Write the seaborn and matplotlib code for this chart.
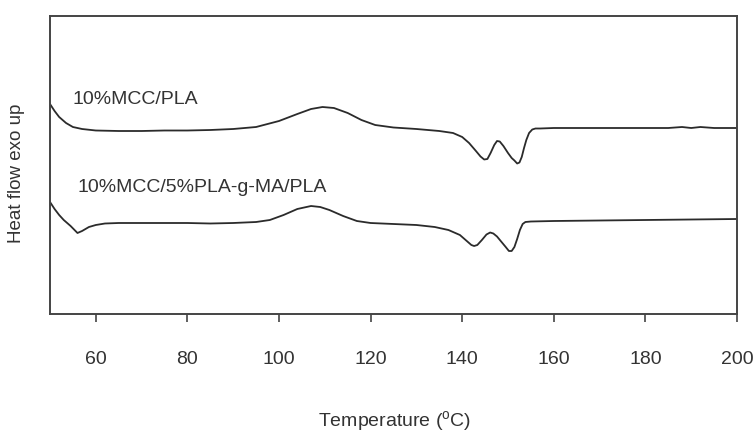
import matplotlib
matplotlib.use("Agg")
import matplotlib.pyplot as plt
import seaborn as sns
import pandas as pd

# --- data (temperature in °C, heat flow in arbitrary units) ---
temp_mcc_pla = [50, 51, 52, 53.5, 55, 57, 60, 65, 70, 75, 80, 85, 90, 95, 100, 104, 107, 109.5, 112, 115,
                118, 121, 125, 130, 135, 138, 140, 141.5, 143, 144, 144.8, 145.5, 146.2, 147, 147.6,
                148.2, 149, 150, 150.8, 151.4, 152, 152.5, 153, 153.5, 154, 154.6, 155.3, 156, 157,
                160, 170, 180, 185, 188, 190, 192, 195, 200]
heat_mcc_pla = [21.0, 20.3, 19.7, 19.1, 18.7, 18.5, 18.35, 18.3, 18.3, 18.35, 18.35, 18.4, 18.5, 18.7,
                19.3, 20.0, 20.5, 20.7, 20.6, 20.1, 19.4, 18.9, 18.65, 18.5, 18.3, 18.1, 17.7, 17.1,
                16.3, 15.75, 15.45, 15.5, 16.1, 16.9, 17.3, 17.25, 16.8, 16.1, 15.6, 15.35, 15.05,
                15.15, 15.7, 16.6, 17.4, 18.1, 18.45, 18.55, 18.55, 18.6, 18.6, 18.6, 18.6, 18.7,
                18.6, 18.7, 18.6, 18.6]

temp_mcc_ma_pla = [50, 51, 52, 53, 54.5, 56, 57, 58.5, 60, 62, 65, 70, 80, 85, 90, 95, 98, 101, 104, 107,
                   109, 111, 114, 117, 120, 125, 130, 134, 137, 139.5, 141, 142, 142.6, 143.3, 144.3,
                   145.3, 146.1, 146.8, 147.6, 148.5, 149.5, 150.2, 150.8, 151.4, 152, 152.6, 153.2,
                   153.8, 155, 160, 170, 180, 190, 200]
heat_mcc_ma_pla = [11.2, 10.5, 9.9, 9.4, 8.8, 8.1, 8.3, 8.7, 8.9, 9.05, 9.1, 9.1, 9.1, 9.05, 9.1, 9.2,
                   9.4, 9.9, 10.5, 10.8, 10.7, 10.4, 9.8, 9.3, 9.1, 9.0, 8.9, 8.7, 8.4, 7.9, 7.3, 6.9,
                   6.8, 6.9, 7.4, 7.95, 8.15, 8.05, 7.75, 7.25, 6.7, 6.3, 6.3, 6.7, 7.5, 8.4, 9.0, 9.2,
                   9.25, 9.3, 9.35, 9.4, 9.45, 9.5]

series_labels = ["10%MCC/PLA", "10%MCC/5%PLA-g-MA/PLA"]
x_ticks = [60, 80, 100, 120, 140, 160, 180, 200]

sns.set_theme(style="white")
plt.rcParams["font.family"] = ["Liberation Sans", "DejaVu Sans"]
plt.rcParams["mathtext.fontset"] = "custom"
plt.rcParams["mathtext.rm"] = "Liberation Sans"

text_col = "#333333"
line_col = "#2b2b2b"

df = pd.concat([
    pd.DataFrame({"T": temp_mcc_pla, "H": heat_mcc_pla, "s": series_labels[0]}),
    pd.DataFrame({"T": temp_mcc_ma_pla, "H": heat_mcc_ma_pla, "s": series_labels[1]}),
])

fig = plt.figure(figsize=(7.55, 4.35), dpi=100)
ax = fig.add_axes([50/755, 1-315/435, 687/755, 298/435])

sns.lineplot(data=df, x="T", y="H", units="s", estimator=None, color=line_col,
             linewidth=1.3, ax=ax, legend=False)

ax.set_xlim(50, 200)
ax.set_ylim(0, 29.8)
ax.set_xticks(x_ticks)
ax.set_xticklabels([str(t) for t in x_ticks])
ax.set_yticks([])

for sp in ax.spines.values():
    sp.set_color("#444444")
    sp.set_linewidth(1.4)
    sp.set_visible(True)

ax.tick_params(axis="x", direction="out", length=6, width=1.2, color="#444444",
               pad=20, labelsize=14, labelcolor=text_col, bottom=True)

ax.text(55.0, 21.5, series_labels[0], fontsize=14, color=text_col, ha="left", va="center")
ax.text(56.1, 12.7, series_labels[1], fontsize=14, color=text_col, ha="left", va="center")

ax.set_xlabel("Temperature ($^{\\mathrm{o}}$C)", fontsize=14, color=text_col)
ax.xaxis.set_label_coords(0.502, -0.318)
ax.set_ylabel("Heat flow exo up", fontsize=13.5, color=text_col)
ax.yaxis.set_label_coords(-0.036, 0.477)

fig.savefig("out.png", dpi=100)
